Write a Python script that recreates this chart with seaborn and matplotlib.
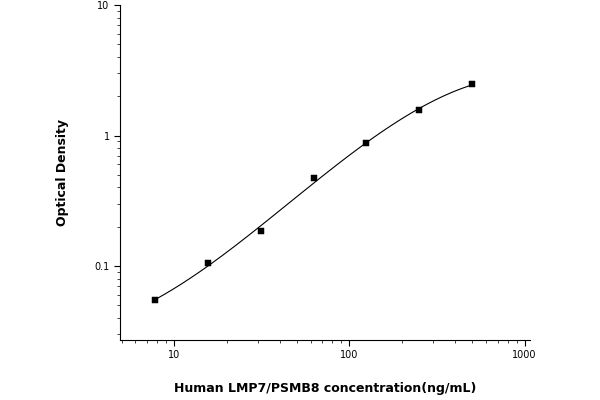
import numpy as np
import matplotlib
matplotlib.use("Agg")
import matplotlib.pyplot as plt
import seaborn as sns
from matplotlib.ticker import FixedLocator, FixedFormatter, LogLocator, NullFormatter

conc = [7.8, 15.6, 31.25, 62.5, 125, 250, 500]
od = [0.055, 0.105, 0.185, 0.47, 0.87, 1.58, 2.46]
xticks = [10, 100, 1000]
xticklabels = ["10", "100", "1000"]
yticks = [0.1, 1, 10]
yticklabels = ["0.1", "1", "10"]

sns.set_style("ticks")
fig = plt.figure(figsize=(6, 4), dpi=100)
ax = fig.add_axes([0.2, 0.15, 0.683, 0.8375])

lx, ly = np.log10(conc), np.log10(od)
coef = np.polyfit(lx, ly, 3)
xs = np.linspace(lx[0], lx[-1], 200)
sns.lineplot(x=10**xs, y=10**np.polyval(coef, xs), ax=ax, color="black", lw=0.8)
sns.scatterplot(x=conc, y=od, ax=ax, marker="s", color="black", s=18, edgecolor="black")

ax.set_xscale("log"); ax.set_yscale("log")
ax.set_xlim(4.9, 1070); ax.set_ylim(0.0271, 10)
ax.xaxis.set_major_locator(FixedLocator(xticks))
ax.xaxis.set_major_formatter(FixedFormatter(xticklabels))
ax.yaxis.set_major_locator(FixedLocator(yticks))
ax.yaxis.set_major_formatter(FixedFormatter(yticklabels))
for a in (ax.xaxis, ax.yaxis):
    a.set_minor_locator(LogLocator(subs=np.arange(2, 10)))
    a.set_minor_formatter(NullFormatter())
ax.tick_params(which="major", length=4, width=0.8, labelsize=7, colors="black")
ax.tick_params(which="minor", length=2, width=0.6)
for s in ("top", "right"):
    ax.spines[s].set_visible(False)
for s in ("left", "bottom"):
    ax.spines[s].set_color("black")
ax.set_xlabel("Human LMP7/PSMB8 concentration(ng/mL)", fontsize=9, fontweight="bold", labelpad=28, color="black")
ax.set_ylabel("Optical Density", fontsize=9, fontweight="bold", labelpad=18, color="black")
ax.xaxis.set_label_coords(0.5, -0.125)
fig.savefig("out.png", dpi=100)
